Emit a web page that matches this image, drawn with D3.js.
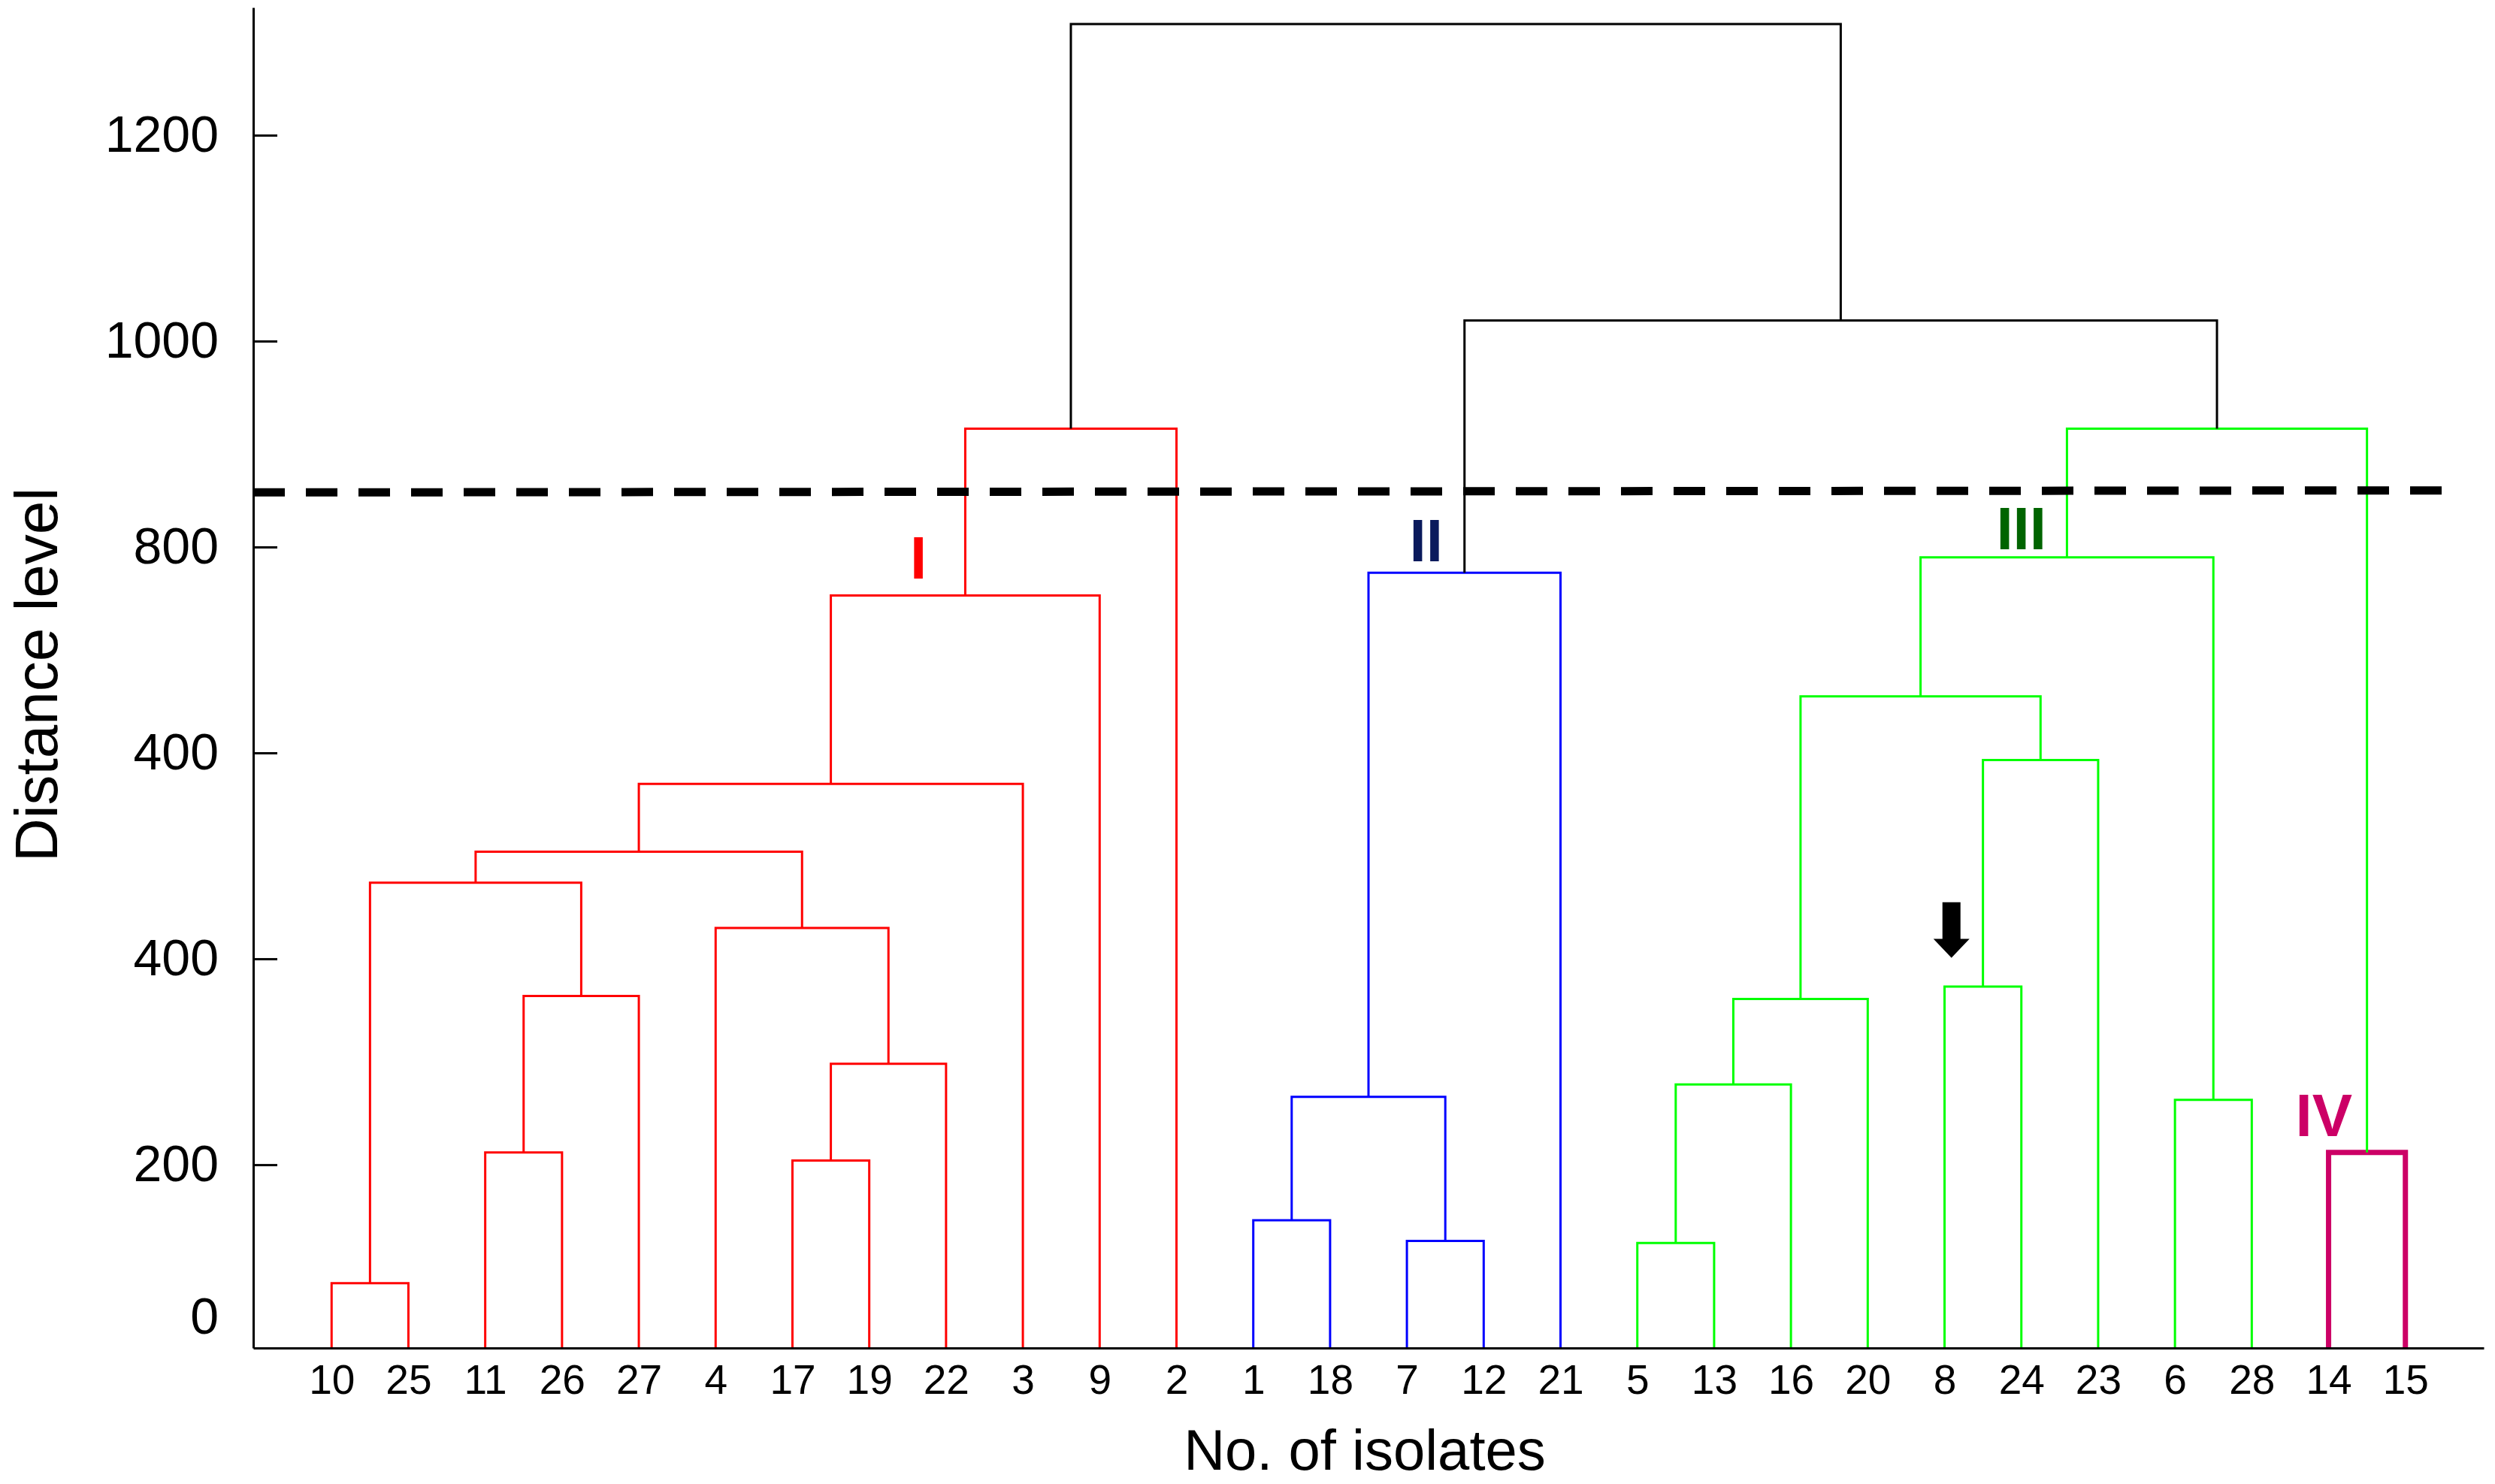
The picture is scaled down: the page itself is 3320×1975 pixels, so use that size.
<!DOCTYPE html>
<html>
<head>
<meta charset="utf-8">
<script src="https://cdn.jsdelivr.net/npm/d3@7"></script>
<style>
  html, body { margin: 0; padding: 0; background: #fff; }
  svg { display: block; font-family: "Liberation Sans", Arial, sans-serif; }
</style>
</head>
<body>
<svg width="3320" height="1975"></svg>
<script>
// leaf order along the x axis
var leaves = ["10","25","11","26","27","4","17","19","22","3","9","2","1","18","7","12","21",
              "5","13","16","20","8","24","23","6","28","14","15"];

// merges: id, left child, right child, distance, cluster
var merges = [
  ["r1","10","25",85,"I"],
  ["r2","11","26",212,"I"],
  ["r3","r2","27",364,"I"],
  ["r4","r1","r3",474,"I"],
  ["r5","17","19",204,"I"],
  ["r6","r5","22",298,"I"],
  ["r7","4","r6",430,"I"],
  ["r8","r4","r7",504,"I"],
  ["r9","r8","3",570,"I"],
  ["r10","r9","9",753,"I"],
  ["r11","r10","2",915,"I"],
  ["b1","1","18",146,"II"],
  ["b2","7","12",126,"II"],
  ["b3","b1","b2",266,"II"],
  ["b4","b3","21",775,"II"],
  ["g1","5","13",124,"III"],
  ["g2","g1","16",278,"III"],
  ["g3","g2","20",361,"III"],
  ["g4","8","24",373,"III"],
  ["g5","g4","23",593,"III"],
  ["g6","g3","g5",655,"III"],
  ["g7","6","28",263,"III"],
  ["g8","g6","g7",790,"III"],
  ["m1","14","15",212,"IV"],
  ["g9","g8","m1",915,"III"],
  ["k1","b4","g9",1020,"root"],
  ["k2","r11","k1",1308,"root"]
];

// y axis ticks (labels as printed)
var tickVals = [1200,1000,800,600,400,200,52];
var tickText = ["1200","1000","800","400","400","200","0"];

// cut line (distance at left end, right end)
var cutLine = [853,855];

// cluster labels: text, position in leaf steps, distance at baseline
var clusterLabels = [
  {text:"I",   at:7.64,  v:769, color:"#ff0000"},
  {text:"II",  at:14.25, v:786, color:"#0a1a5c"},
  {text:"III", at:22.0,  v:798, color:"#006400"},
  {text:"IV",  at:25.94, v:228, color:"#cc0066"}
];

// arrow marker above isolate 8
var arrow = {leaf:"8", top:455, tip:401};

var colors = {"I":"#ff0000","II":"#0000ff","III":"#00ff00","IV":"#cc0066","root":"#000000"};

var svg = d3.select("svg");
var mLeft = 337, mRight = 3305, mTop = 10, mBottom = 1794;

var x = d3.scalePoint().domain(leaves).range([mLeft, mRight]).padding(1.02);
var y = d3.scaleLinear().domain([22, 1324]).range([mBottom, mTop]);
var step = x.step();
function xAt(i) { return x(leaves[0]) + i * step; }

// build nodes
var nodes = {};
leaves.forEach(function (l) { nodes[l] = {id:l, x:x(l), h:null}; });
merges.forEach(function (m) {
  var a = nodes[m[1]], b = nodes[m[2]];
  nodes[m[0]] = {id:m[0], a:a, b:b, h:m[3], group:m[4], x:(a.x + b.x) / 2};
});
function ny(n) { return n.h == null ? mBottom : y(n.h); }

// dendrogram links
var g = svg.append("g");
merges.forEach(function (m) {
  var n = nodes[m[0]];
  var p = d3.path();
  p.moveTo(n.a.x, ny(n.a));
  p.lineTo(n.a.x, y(n.h));
  p.lineTo(n.b.x, y(n.h));
  p.lineTo(n.b.x, ny(n.b));
  g.append("path")
    .attr("d", p.toString())
    .attr("fill", "none")
    .attr("stroke", colors[n.group])
    .attr("stroke-width", n.group == "IV" ? 7 : 3);
});

// cut line
svg.append("line")
  .attr("x1", mLeft).attr("y1", y(cutLine[0]))
  .attr("x2", xAt(27.6)).attr("y2", y(cutLine[1]))
  .attr("stroke", "#000")
  .attr("stroke-width", 11)
  .attr("stroke-dasharray", "42,28");

// axes
var xAxis = svg.append("g")
  .attr("transform", "translate(0," + mBottom + ")")
  .call(d3.axisBottom(x).tickSize(0).tickSizeOuter(0).tickPadding(22));
xAxis.selectAll("text").attr("font-size", 55).attr("fill", "#000").attr("font-family", "Liberation Sans, Arial");
xAxis.select(".domain").attr("stroke", "#000").attr("stroke-width", 3);

var yAxis = svg.append("g")
  .attr("transform", "translate(" + mLeft + ",0)")
  .call(d3.axisLeft(y).tickValues(tickVals)
    .tickFormat(function (d, i) { return tickText[i]; })
    .tickSizeInner(-32).tickSizeOuter(0).tickPadding(46));
yAxis.selectAll("text").attr("font-size", 68).attr("fill", "#000").attr("font-family", "Liberation Sans, Arial");
yAxis.selectAll(".tick line").attr("stroke", "#000").attr("stroke-width", 3)
  .filter(function (d, i) { return tickText[i] == "0"; }).remove();
yAxis.select(".domain").attr("stroke", "#000").attr("stroke-width", 3);

// axis titles
svg.append("text")
  .attr("x", (mLeft + mRight) / 2 - 5).attr("y", 1956)
  .attr("text-anchor", "middle")
  .attr("font-size", 76)
  .text("No. of isolates");

svg.append("text")
  .attr("transform", "translate(76," + 898 + ") rotate(-90)")
  .attr("text-anchor", "middle")
  .attr("font-size", 80)
  .text("Distance level");

// cluster labels
svg.selectAll(".clabel").data(clusterLabels).enter().append("text")
  .attr("class", "clabel")
  .attr("x", function (d) { return xAt(d.at); })
  .attr("y", function (d) { return y(d.v); })
  .attr("text-anchor", "middle")
  .attr("font-size", 80)
  .attr("font-weight", "bold")
  .attr("fill", function (d) { return d.color; })
  .text(function (d) { return d.text; });

// arrow
var ax = x(arrow.leaf) + step * 0.09,
    yTop = y(arrow.top), yTip = y(arrow.tip),
    yHead = yTip - (yTip - yTop) * 0.34;
svg.append("path")
  .attr("d", "M" + (ax - 12) + "," + yTop + "H" + (ax + 12) + "V" + yHead +
             "H" + (ax + 24) + "L" + ax + "," + yTip + "L" + (ax - 24) + "," + yHead +
             "H" + (ax - 12) + "Z")
  .attr("fill", "#000");
</script>
</body>
</html>
